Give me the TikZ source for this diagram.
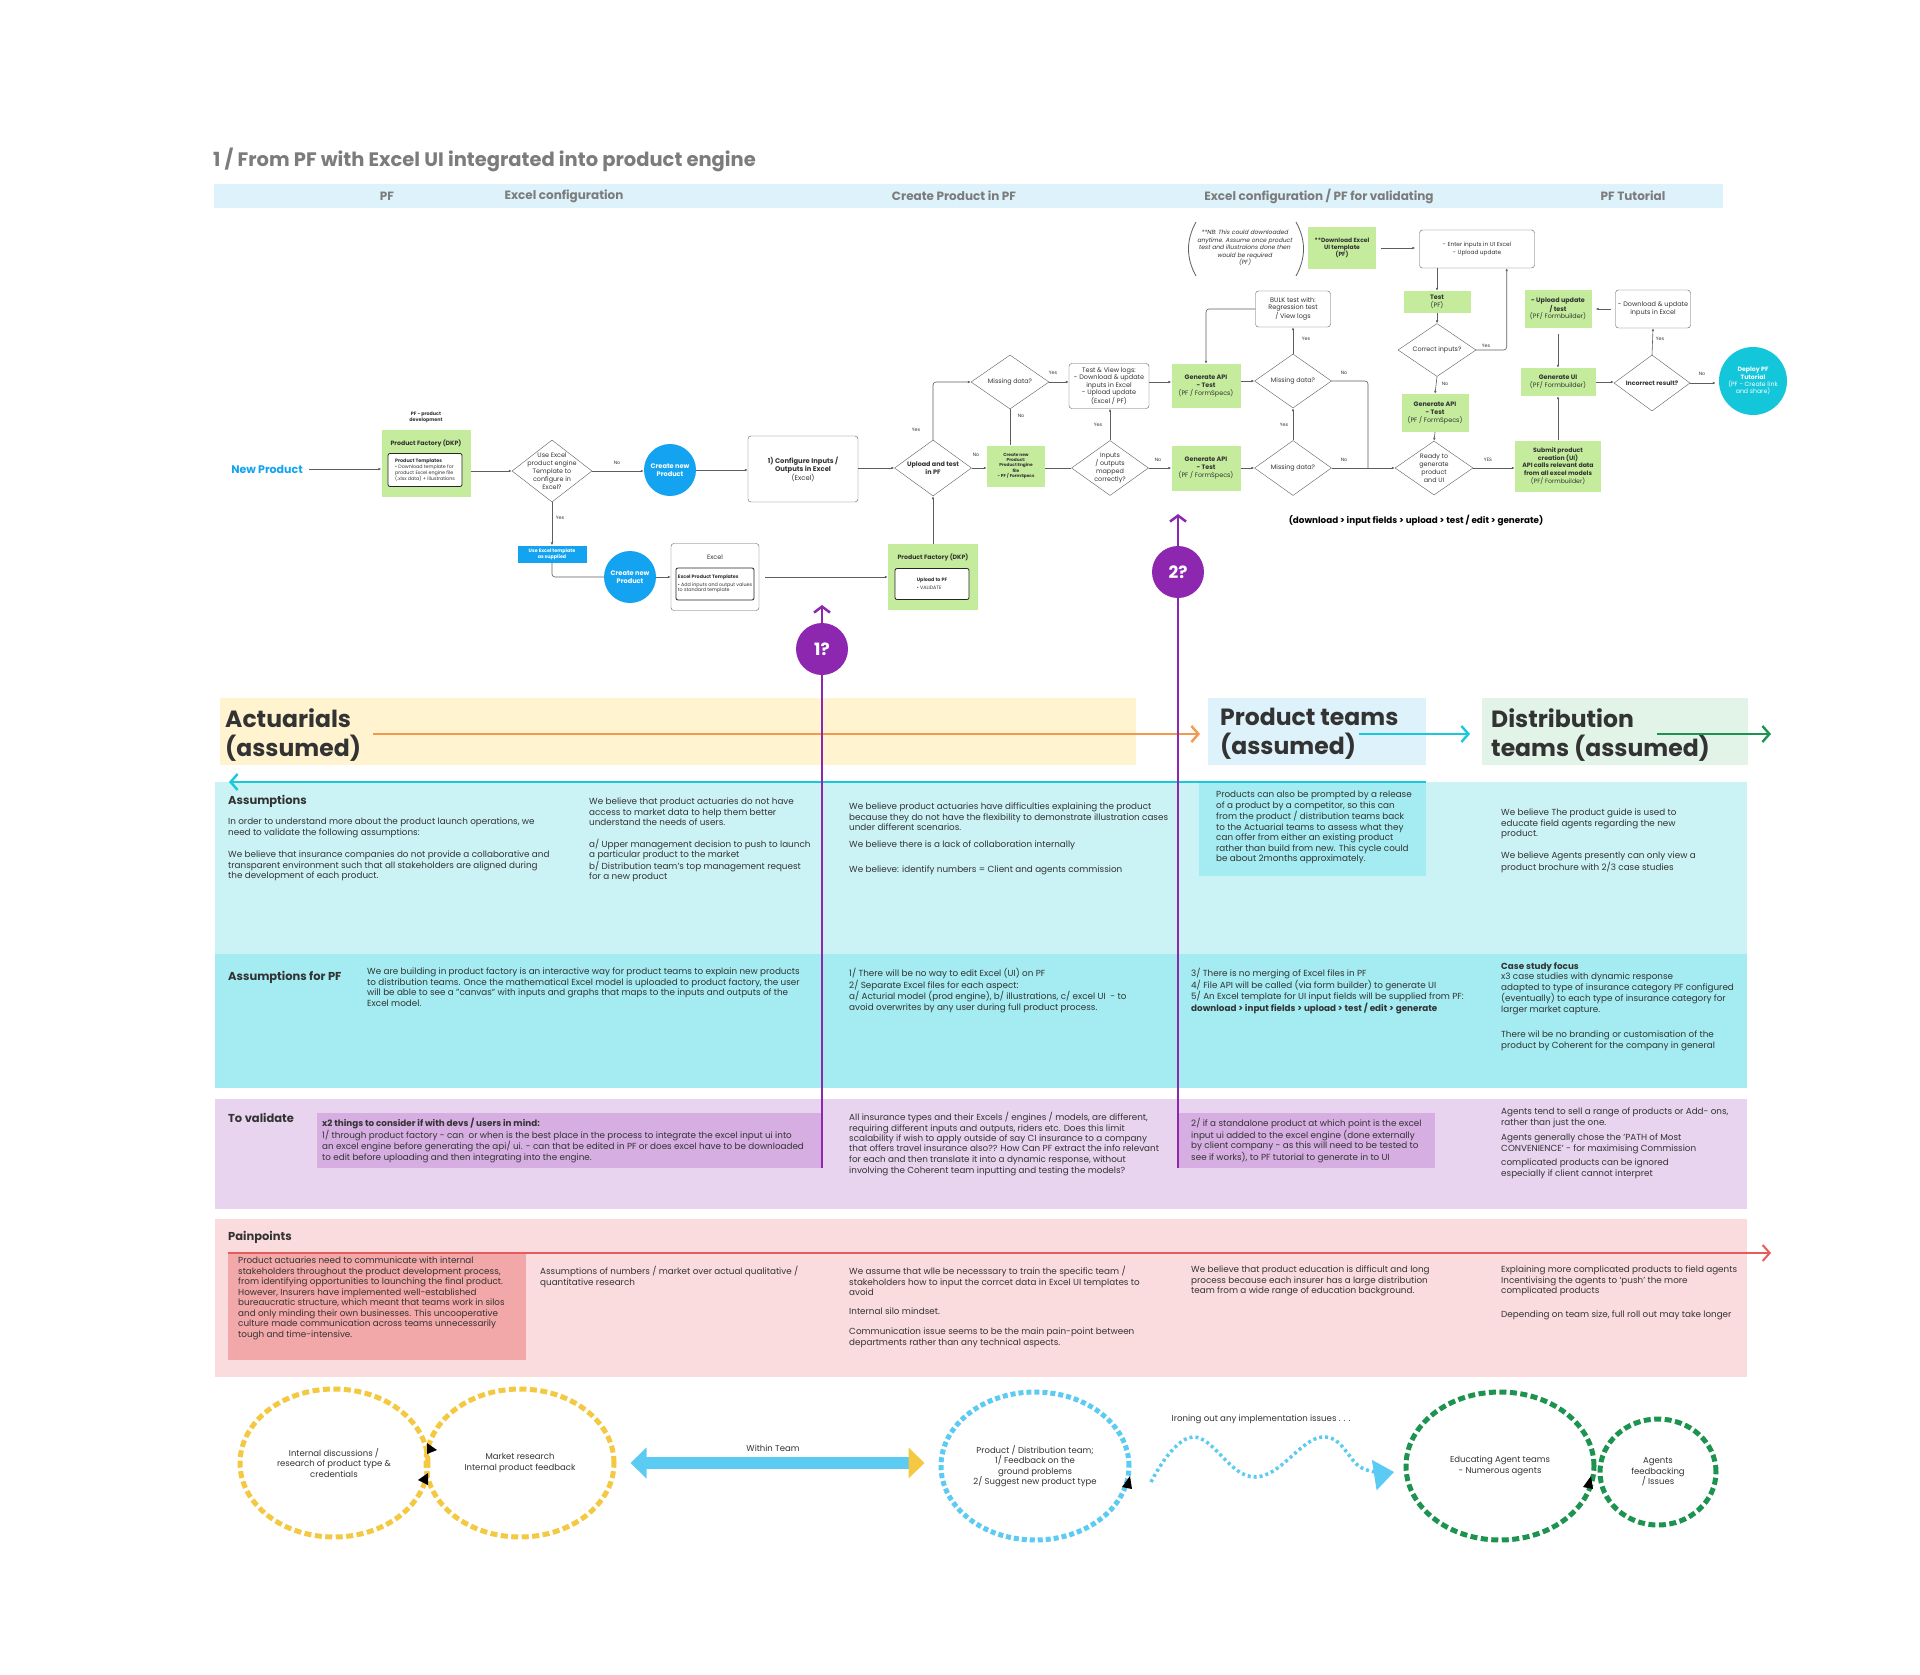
\documentclass[tikz,border=0pt]{standalone}
\usepackage{fontspec}
\setmainfont{Poppins}
\usetikzlibrary{arrows.meta, shapes.geometric, calc}
\definecolor{cgrey}{HTML}{7C7C7C}
\definecolor{ctext}{HTML}{333333}
\definecolor{cline}{HTML}{5E5E5E}
\definecolor{cband}{HTML}{DDF2FA}
\definecolor{cgreen}{HTML}{C4EC9C}
\definecolor{cblue}{HTML}{13A3F0}
\definecolor{cteal}{HTML}{13C6D9}
\definecolor{cpurple}{HTML}{8E27B0}
\definecolor{cyband}{HTML}{FFF4CF}
\definecolor{cgband}{HTML}{E2F4E7}
\definecolor{corange}{HTML}{F3984C}
\definecolor{ccyan}{HTML}{18C8DC}
\definecolor{cdkgreen}{HTML}{1C9450}
\definecolor{cassum}{HTML}{CBF2F5}
\definecolor{cassumdk}{HTML}{A4EBF2}
\definecolor{cval}{HTML}{E8D4EE}
\definecolor{cvaldk}{HTML}{D6AEE2}
\definecolor{cpain}{HTML}{FADCDF}
\definecolor{cpaindk}{HTML}{F2A8A8}
\definecolor{cred}{HTML}{E85B5B}
\definecolor{cyellow}{HTML}{F5C842}
\definecolor{csky}{HTML}{5CCBF3}
\newcommand\fsize[2]{\fontsize{#1}{#2}\selectfont}
\tikzset{
  hdr/.style={text=cgrey, inner sep=0pt, font=\fsize{12}{14}\bfseries},
  flowbox/.style={draw=cline, fill=white, rounded corners=3pt, align=center, inner sep=1pt, text=ctext, font=\fsize{6.5}{7.6}},
  greenbox/.style={fill=cgreen, align=center, inner sep=1pt, text=ctext, font=\fsize{6.4}{7.6}},
  innerbox/.style={draw=black!85, fill=white, rounded corners=2pt, line width=0.8pt, align=left, inner sep=2pt, text=ctext, font=\fsize{4.8}{5.8}},
  btitle/.style={inner sep=0pt, text=ctext, font=\fsize{6.2}{7.4}\bfseries},
  decision/.style 2 args={diamond, draw=cline, fill=white, minimum width=#1, minimum height=#2, inner sep=0pt},
  dtext/.style={align=center, inner sep=0pt, text=ctext, font=\fsize{6.4}{7.9}},
  yn/.style={inner sep=0pt, text=ctext, font=\fsize{4.8}{5}},
  flow/.style={draw=cline, line width=0.6pt, -{Latex[length=3pt,width=2.6pt]}},
  flowline/.style={draw=cline, line width=0.6pt},
  bluecirc/.style={circle, fill=cblue, text=white, minimum size=52pt, inner sep=0pt, align=center, font=\fsize{6.6}{7.8}\bfseries},
  qcirc/.style={circle, fill=cpurple, text=white, minimum size=52pt, inner sep=0pt, font=\fsize{17}{17}\bfseries},
  purp/.style={draw=cpurple, line width=2.5pt},
  lanearrow/.style={line width=2.4pt, -{Straight Barb[length=7pt,width=16pt]}},
  lanetitle/.style={anchor=north west, align=left, inner sep=0pt, text=ctext, font=\fsize{23.5}{29}\bfseries},
  sechead/.style={anchor=west, inner sep=0pt, text=ctext, font=\fsize{11.5}{13}\bfseries},
  body/.style={anchor=north west, align=left, inner sep=0pt, text=ctext, font=\fsize{8.8}{10.5}},
  ring/.style={ellipse, draw=#1, line width=5pt, dash pattern=on 7pt off 3.5pt, align=center, inner sep=0pt, text=ctext, font=\fsize{8.5}{10.5}},
}
\begin{document}
\begin{tikzpicture}[x=1pt, y=-1pt]
  \useasboundingbox (0,0) rectangle (1920,1675);
  \fill[white] (0,0) rectangle (1920,1675);

  % header
  \node[anchor=west, inner sep=0pt, text=cgrey, font=\fsize{19.5}{22}\bfseries] (title) at (213,160) {1 / From PF with Excel UI integrated into product engine};
  \fill[cband] (214,184) rectangle (1723,208);
  \node[hdr] (hpf) at (387,196) {PF};
  \node[hdr] (hxl) at (564,196) {Excel configuration};
  \node[hdr] (hcp) at (954,196) {Create Product in PF};
  \node[hdr] (hvalid) at (1319,196) {Excel configuration / PF for validating};
  \node[hdr] (htut) at (1633,196) {PF Tutorial};

  % flow: PF and Excel configuration
  \node[inner sep=0pt, text=cblue, font=\fsize{11}{13}\bfseries] (newprod) at (267,469) {New Product};
  \node[align=center, inner sep=0pt, text=ctext, font=\fsize{4.8}{5.8}\bfseries] (pfdev) at (426,417) {PF - product\\development};
  \node[greenbox, minimum width=89, minimum height=67] (pfone) at (426,463) {};
  \node[btitle] (pfonet) at (426,443) {Product Factory (DKP)};
  \node[innerbox, minimum width=74, minimum height=33] (pfonei) at (425,470) {\textbf{Product Templates}\\\textbullet{} Download template for\\product Excel engine file\\(.xlsx data) + illustrations};
  \node[decision={80}{62}, label={[dtext]center:{Use Excel\\product engine\\Template to\\configure in\\Excel?}}] (usexl) at (552,471) {};
  \node[yn] at (617,463) {No};
  \node[bluecirc] (createone) at (670,470) {Create new\\Product};
  \node[flowbox, minimum width=110, minimum height=66, font=\fsize{6.8}{8}] (config) at (803,469) {\textbf{1) Configure Inputs /}\\\textbf{Outputs in Excel}\\(Excel)};
  \node[yn] at (560,518) {Yes};
  \node[fill=cblue, text=white, minimum width=69, minimum height=17, inner sep=0pt, align=center, font=\fsize{4.8}{5.8}\bfseries] (xltmpl) at (552,554) {Use Excel template\\as supplied};
  \node[bluecirc] (createtwo) at (630,577) {Create new\\Product};
  \node[flowbox, minimum width=88, minimum height=67] (xlbox) at (715,577) {};
  \node[btitle, font=\fsize{6.4}{7.4}] (xlboxt) at (715,557) {Excel};
  \node[innerbox, minimum width=75, minimum height=32] (xlboxi) at (715,584) {\textbf{Excel Product Templates}\\[2pt]\textbullet{} Add inputs and output values\\to standard template};

  % flow: create product in PF
  \node[greenbox, minimum width=90, minimum height=66] (pftwo) at (933,577) {};
  \node[btitle] (pftwot) at (933,557) {Product Factory (DKP)};
  \node[innerbox, minimum width=74, minimum height=31] (pftwoi) at (932,584) {\textbf{Upload to PF}\\[2pt]\textbullet{} VALIDATE};
  \node[decision={77}{56}, label={[dtext, font=\fsize{6.4}{7.9}\bfseries]center:{Upload and test\\in PF}}] (upload) at (933,468) {};
  \node[yn] at (916,430) {Yes};
  \node[decision={78}{54}, label={[dtext]center:{Missing data?}}] (missa) at (1010,382) {};
  \node[yn] at (1053,373) {Yes};
  \node[flowbox, minimum width=80, minimum height=45] (testview) at (1109,386) {Test \& View logs:\\- Download \& update\\inputs in Excel\\- Upload update\\(Excel / PF)};
  \node[greenbox, minimum width=69, minimum height=44] (apia) at (1206,386) {\textbf{Generate API}\\\textbf{- Test}\\(PF / FormSpecs)};
  \node[yn] at (1021,416) {No};
  \node[yn] at (976,455) {No};
  \node[greenbox, minimum width=58, minimum height=41, font=\fsize{4.3}{5.3}\bfseries] (createpe) at (1016,466) {Create new\\Product:\\Product Engine\\file\\- PF / FormSpecs};
  \node[decision={77}{55}, label={[dtext]center:{Inputs\\/ outputs\\mapped\\correctly?}}] (mapped) at (1110,468) {};
  \node[yn] at (1098,425) {Yes};
  \node[yn] at (1158,460) {No};
  \node[greenbox, minimum width=69, minimum height=45] (apib) at (1206,468) {\textbf{Generate API}\\\textbf{- Test}\\(PF / FormSpecs)};

  % flow: validating
  \node[align=center, inner sep=0pt, text=ctext, font=\fsize{6}{7.6}\itshape] (nbnote) at (1245,248) {**NB: This could downloaded\\anytime. Assume once product\\test and illustraions done then\\would be required\\(PF)};
  \draw[cline, line width=0.8pt] (1196,222) .. controls (1186,240) and (1186,258) .. (1196,276);
  \draw[cline, line width=0.8pt] (1296,222) .. controls (1306,240) and (1306,258) .. (1296,276);
  \node[greenbox, minimum width=68, minimum height=42, font=\fsize{6}{7.4}\bfseries] (dlui) at (1342,248) {**Download Excel\\UI template\\(PF)};
  \node[flowbox, minimum width=115, minimum height=38, font=\fsize{5.8}{7.4}] (enterui) at (1477,249) {- Enter inputs in UI Excel\\- Upload update};
  \node[flowbox, minimum width=75, minimum height=36] (bulk) at (1293,309) {BULK test with:\\Regression test\\/ View logs};
  \node[decision={77}{54}, label={[dtext]center:{Missing data?}}] (missb) at (1293,381) {};
  \node[yn] at (1306,339) {Yes};
  \node[yn] at (1344,373) {No};
  \node[decision={77}{55}, label={[dtext]center:{Missing data?}}] (missc) at (1293,468) {};
  \node[yn] at (1284,425) {Yes};
  \node[yn] at (1344,460) {No};
  \coordinate (mjoin) at (1368,468);
  \node[greenbox, minimum width=67, minimum height=22] (testpf) at (1437,302) {\textbf{Test}\\(PF)};
  \node[decision={78}{53}, label={[dtext]center:{Correct inputs?}}] (correct) at (1437,350) {};
  \node[yn] at (1486,346) {Yes};
  \node[yn] at (1445,384) {No};
  \node[greenbox, minimum width=67, minimum height=38] (apic) at (1435,413) {\textbf{Generate API}\\\textbf{- Test}\\(PF / FormSpecs)};
  \node[decision={78}{54}, label={[dtext]center:{Ready to\\generate\\product\\and UI}}] (ready) at (1434,468) {};
  \node[yn] at (1488,460) {YES};
  \node[greenbox, minimum width=86, minimum height=51, font=\fsize{6.2}{7.6}] (submit) at (1558,466) {\textbf{Submit product}\\\textbf{creation (UI)}\\\textbf{API calls relevant data}\\\textbf{from all excel models}\\(PF/ Formbuilder)};
  \node[greenbox, minimum width=75, minimum height=28] (genui) at (1558,382) {\textbf{Generate UI}\\(PF/ Formbuilder)};
  \node[greenbox, minimum width=67, minimum height=38] (updtest) at (1558,309) {\textbf{- Upload update}\\\textbf{/ test}\\(PF/ Formbuilder)};
  \node[flowbox, minimum width=75, minimum height=38] (dlupd) at (1653,309) {- Download \& update\\inputs in Excel};
  \node[decision={76}{56}, label={[dtext, font=\fsize{6.2}{7.6}\bfseries]center:{Incorrect result?}}] (incorrect) at (1652,383) {};
  \node[yn] at (1660,339) {Yes};
  \node[yn] at (1702,374) {No};
  \node[circle, fill=cteal, text=white, minimum size=68pt, inner sep=0pt, align=center, font=\fsize{6.2}{7.4}] (deploy) at (1753,381) {\textbf{Deploy PF}\\\textbf{Tutorial}\\(PF - Create link\\and share)};
  \node[inner sep=0pt, text=black, font=\fsize{8.8}{10}\bfseries] (caption) at (1416,521) {(download > input fields > upload > test / edit > generate)};

  % connectors
  \draw[flow, shorten <=6pt] (newprod.east) -- (newprod.east -| pfone.west);
  \draw[flow] (pfone.east |- usexl) -- (usexl.west);
  \draw[flow] (usexl.east) -- (usexl.east -| createone.west);
  \draw[flow] (createone.east) -- (createone.east -| config.west);
  \draw[flow] (usexl.south) -- (xltmpl.north);
  \draw[flowline, rounded corners=3pt] (xltmpl.south) |- (createtwo.west);
  \draw[flow] (createtwo.east) -- (xlbox.west);
  \draw[flow, shorten <=6pt] (xlbox.east) -- (pftwo.west);
  \draw[flow] (pftwo.north) -- (upload.south);
  \draw[flow] (config.east |- upload) -- (upload.west);
  \draw[flow, rounded corners=3pt] (upload.north) |- (missa.west);
  \draw[flow] (missa.east) -- (missa.east -| testview.west);
  \draw[flow] (testview.east |- missa) -- (apia.west |- missa);
  \draw[flowline] (missa.south) -- (missa.south |- createpe.north);
  \draw[flow] (upload.east) -- (upload.east -| createpe.west);
  \draw[flowline] (createpe.east |- mapped) -- (mapped.west);
  \draw[flow] (mapped.north) -- (mapped.north |- testview.south);
  \draw[flow] (mapped.east) -- (mapped.east -| apib.west);
  \draw[flow] (apib.east |- missc) -- (missc.west);
  \draw[flow] (apia.east |- missb) -- (missb.west);
  \draw[flow, rounded corners=3pt] (bulk.west) -| (apia.north);
  \draw[flow] (missb.north) -- (bulk.south);
  \draw[flow] (missc.north) -- (missb.south);
  \draw[flowline, rounded corners=3pt] (missb.east) -| (mjoin);
  \draw[flow] (missc.east) -- (ready.west);
  \draw[flow] (ready.east) -- (ready.east -| submit.west);
  \draw[flow] (apic.south) -- (ready.north);
  \draw[flow, shorten <=5pt, shorten >=4pt] (dlui.east) -- (dlui.east -| enterui.west);
  \draw[flow] (enterui.south -| testpf.north) -- (testpf.north);
  \draw[flow] (testpf.south) -- (correct.north);
  \draw[flow] (correct.south) -- (apic.north);
  \draw[flow, rounded corners=3pt] (correct.east) -| ([xshift=-28pt]enterui.south east);
  \draw[flow] (submit.north) -- (genui.south);
  \draw[flow, shorten <=6pt] (updtest.south) -- (genui.north);
  \draw[flow, shorten <=4pt, shorten >=4pt] (dlupd.west) -- (updtest.east);
  \draw[flow] (genui.east) -- (genui.east -| incorrect.west);
  \draw[flow] (incorrect.north) -- (dlupd.south);
  \draw[flow, shorten >=3pt] (incorrect.east) -- (incorrect.east -| deploy.west);

  % lanes
  \fill[cyband] (220,698) rectangle (1136,765);
  \fill[cband] (1208,698) rectangle (1426,765);
  \fill[cgband] (1482,698) rectangle (1748,765);
  \node[lanetitle] (actuarial) at (225,708) {Actuarials\\(assumed)};
  \node[lanetitle] (prodteam) at (1220,708) {Product teams\\(assumed)};
  \node[lanetitle] (distteam) at (1491,708) {Distribution\\teams (assumed)};
  \coordinate (oa) at (373,734); \coordinate (ob) at (1200,734);
  \coordinate (ca) at (1359,734); \coordinate (cb) at (1470,734);
  \coordinate (ga) at (1657,734); \coordinate (gb) at (1771,734);
  \draw[lanearrow, corange] (oa) -- (ob);
  \draw[lanearrow, ccyan] (ca) -- (cb);
  \draw[lanearrow, cdkgreen] (ga) -- (gb);

  % rows
  \fill[cassum] (215,782) rectangle (1747,954);
  \fill[cassumdk] (1199,782) rectangle (1426,876);
  \fill[cassumdk] (215,954) rectangle (1747,1088);
  \fill[cval] (215,1099) rectangle (1747,1209);
  \fill[cvaldk] (317,1113) rectangle (821,1168);
  \fill[cvaldk] (1177,1113) rectangle (1435,1168);
  \fill[cpain] (215,1219) rectangle (1747,1377);
  \fill[cpaindk] (228,1253) rectangle (526,1360);
  \coordinate (la) at (1426,782); \coordinate (lb) at (229,782);
  \draw[lanearrow, ccyan] (la) -- (lb);
  \coordinate (ra) at (228,1253); \coordinate (rb) at (1771,1253);
  \draw[lanearrow, cred, line width=2pt] (ra) -- (rb);

  % assumptions
  \node[sechead] (hassum) at (228,801) {Assumptions};
  \node[body] (asone) at (228,818) {In order to understand more about the product launch operations, we\\need to validate the following assumptions:\\[12pt]We believe that insurance companies do not provide a collaborative and\\transparent environment such that all stakeholders are aligned during\\the development of each product.};
  \node[body] (astwo) at (589,798) {We believe that product actuaries do not have\\access to market data to help them better\\understand the needs of users.\\[11pt]a/ Upper management decision to push to launch\\a particular product to the market\\b/ Distribution team's top management request\\for a new product};
  \node[body] (asthree) at (849,803) {We believe product actuaries have difficulties explaining the product\\because they do not have the flexibility to demonstrate illustration cases\\under different scenarios.\\[6pt]We believe there is a lack of collaboration internally\\[15pt]We believe: identify numbers = Client and agents commission};
  \node[body] (asfour) at (1216,791) {Products can also be prompted by a release\\of a product by a competitor, so this can\\from the product / distribution teams back\\to the Actuarial teams to assess what they\\can offer from either an existing product\\rather than build from new. This cycle could\\be about 2months approximately.};
  \node[body] (asfive) at (1501,809) {We believe The product guide is used to\\educate field agents regarding the new\\product.\\[11pt]We believe Agents presently can only view a\\product brochure with 2/3 case studies};

  % assumptions for PF
  \node[sechead] (hpfassum) at (228,977) {Assumptions for PF};
  \node[body] (pftxtone) at (367,968) {We are building in product factory is an interactive way for product teams to explain new products\\to distribution teams. Once the mathematical Excel model is uploaded to product factory, the user\\will be able to see a "canvas" with inputs and graphs that maps to the inputs and outputs of the\\Excel model.};
  \node[body] (pftxtthree) at (849,968) {1/ There will be no way to edit Excel (UI) on PF\\2/ Separate Excel files for each aspect:\\a/ Acturial model (prod engine), b/ illustrations, c/ excel UI~ - to\\avoid overwrites by any user during full product process.};
  \node[body] (pftxtfour) at (1191,968) {3/ There is no merging of Excel files in PF\\4/ File API will be called (via form builder) to generate UI\\5/ An Excel template for UI input fields will be supplied from PF:\\\textbf{download > input fields > upload > test / edit > generate}};
  \node[body] (pftxtfive) at (1501,962) {\textbf{Case study focus}\\x3 case studies with dynamic response\\adapted to type of insurance category PF configured\\(eventually) to each type of insurance category for\\larger market capture.\\[15pt]There wil be no branding or customisation of the\\product by Coherent for the company in general};

  % to validate
  \node[sechead] (hvalidate) at (228,1118) {To validate};
  \node[body] (valone) at (322,1118) {\textbf{x2 things to consider if with devs / users in mind:}\\1/ through product factory - can~ or when is the best place in the process to integrate the excel input ui into\\an excel engine before generating the api/ ui. - can that be edited in PF or does excel have to be downloaded\\to edit before uploading and then integrating into the engine.};
  \node[body] (valthree) at (849,1112) {All insurance types and their Excels / engines / models, are different,\\requiring different inputs and outputs, riders etc. Does this limit\\scalability if wish to apply outside of say CI insurance to a company\\that offers travel insurance also?? How Can PF extract the info relevant\\for each and then translate it into a dynamic response, without\\involving the Coherent team inputting and testing the models?};
  \node[body] (valfour) at (1191,1118) {2/ if a standalone product at which point is the excel\\input ui added to the excel engine (done externally\\by client company - as this will need to be tested to\\see if works), to PF tutorial to generate in to UI};
  \node[body] (valfive) at (1501,1108) {Agents tend to sell a range of products or Add- ons,\\rather than just the one.\\[5pt]Agents generally chose the 'PATH of Most\\CONVENIENCE' - for maximising Commission\\[4pt]complicated products can be ignored\\especially if client cannot interpret};

  % painpoints
  \node[sechead] (hpain) at (228,1237) {Painpoints};
  \node[body] (painone) at (238,1257) {Product actuaries need to communicate with internal\\stakeholders throughout the product development process,\\from identifying opportunities to launching the final product.\\However, Insurers have implemented well-established\\bureaucratic structure, which meant that teams work in silos\\and only minding their own businesses. This uncooperative\\culture made communication across teams unnecessarily\\tough and time-intensive.};
  \node[body] (paintwo) at (540,1266) {Assumptions of numbers / market over actual qualitative /\\quantitative research};
  \node[body] (painthree) at (849,1266) {We assume that wlle be necesssary to train the specific team /\\stakeholders how to input the corrcet data in Excel UI templates to\\avoid\\[8pt]Internal silo mindset.\\[10pt]Communication issue seems to be the main pain-point between\\departments rather than any technical aspects.};
  \node[body] (painfour) at (1191,1266) {We believe that product education is difficult and long\\process because each insurer has a large distribution\\team from a wide range of education background.};
  \node[body] (painfive) at (1501,1266) {Explaining more complicated products to field agents\\Incentivising the agents to `push' the more\\complicated products\\[13pt]Depending on team size, full roll out may take longer};

  % open questions
  \node[qcirc] (qone) at (822,649) {1?};
  \node[qcirc] (qtwo) at (1178,572) {2?};
  \coordinate (qonetop) at (822,605); \coordinate (qonebot) at (822,1168);
  \coordinate (qtwotop) at (1178,514); \coordinate (qtwobot) at (1178,1168);
  \draw[purp, -{Straight Barb[length=6pt,width=16pt]}] (qone.north) -- (qonetop);
  \draw[purp] (qone.south) -- (qonebot);
  \draw[purp, -{Straight Barb[length=6pt,width=16pt]}] (qtwo.north) -- (qtwotop);
  \draw[purp] (qtwo.south) -- (qtwobot);

  % cycles
  \node[ring=cyellow, minimum width=188, minimum height=148] (ringa) at (334,1463) {Internal discussions /\\research of product type \&\\credentials};
  \node[ring=cyellow, minimum width=188, minimum height=148] (ringb) at (520,1463) {Market research\\Internal product feedback};
  \fill[black] (427,1443) -- (437,1450) -- (427,1454) -- cycle;
  \fill[black] (428,1473) -- (418,1480) -- (428,1485) -- cycle;
  \node[ring=csky, dash pattern=on 5pt off 3pt, minimum width=188, minimum height=148] (ringc) at (1035,1466) {Product / Distribution team;\\1/ Feedback on the\\ground problems\\2/ Suggest new product type};
  \draw[line width=12pt, csky, {Triangle[length=16pt,width=30pt,color=csky]}-{Triangle[length=16pt,width=30pt,color=cyellow]}, shorten <=14pt, shorten >=14pt] (ringb.east) -- (ringc.west |- ringb.east);
  \node[inner sep=0pt, text=ctext, font=\fsize{8.5}{10}] (within) at (773,1448) {Within Team};
  \fill[black] (1122,1487) -- (1130,1476) -- (1132,1489) -- cycle;
  \draw[csky, line width=3.5pt, dash pattern=on 3pt off 3pt, -{Triangle[length=20pt,width=30pt]}] plot[smooth, tension=0.7] coordinates {(1151,1482) (1193,1437) (1255,1477) (1322,1437) (1362,1468) (1394,1472)};
  \node[inner sep=0pt, text=ctext, font=\fsize{8.6}{10}] (ironing) at (1261,1419) {Ironing out any implementation issues . . .};
  \node[ring=cdkgreen, minimum width=188, minimum height=148] (ringd) at (1500,1466) {Educating Agent teams\\- Numerous agents};
  \node[ring=cdkgreen, minimum width=116, minimum height=106] (ringe) at (1658,1472) {Agents\\feedbacking\\/ Issues};
  \fill[black] (1583,1487) -- (1591,1476) -- (1593,1489) -- cycle;
\end{tikzpicture}
\end{document}
